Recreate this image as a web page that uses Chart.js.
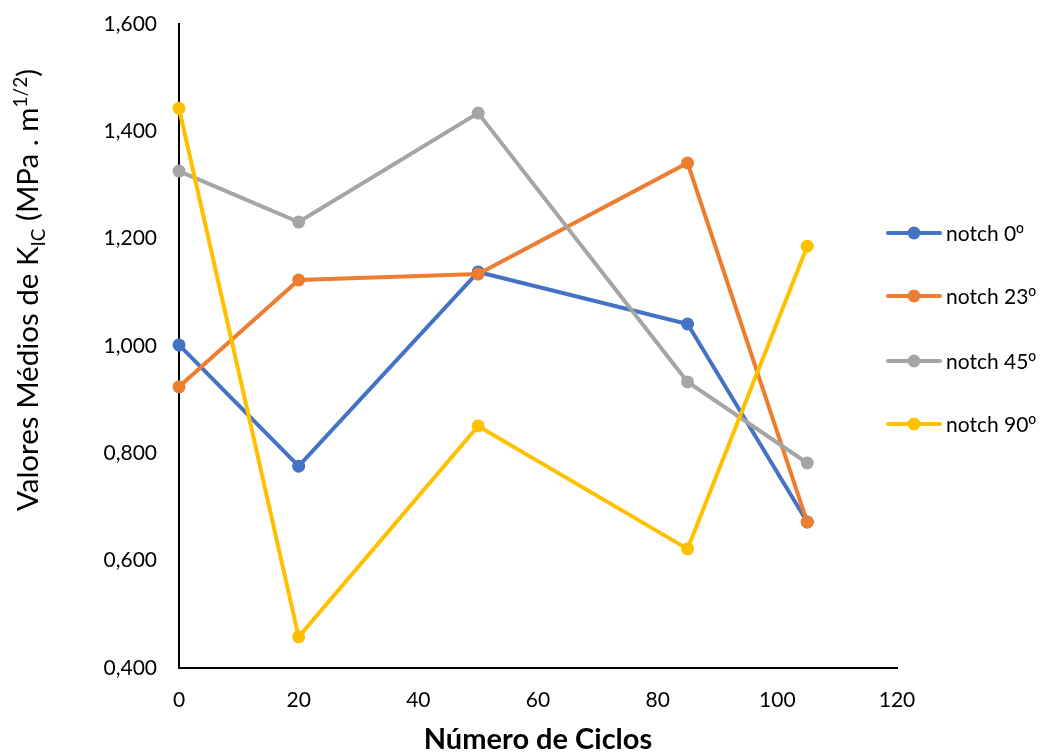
<!DOCTYPE html>
<html>
<head>
<meta charset="utf-8">
<script src="https://cdn.jsdelivr.net/npm/chart.js@4.4.0/dist/chart.umd.min.js"></script>
<style>
  html, body { margin: 0; padding: 0; background: #fff; }
  #wrap { width: 1043px; height: 754px; }
</style>
</head>
<body>
<div id="wrap"><canvas id="grafico" width="1043" height="754"></canvas></div>
<script>
// dados
var ciclos = [0, 20, 50, 85, 105];
var notch0 = [1.002, 0.776, 1.138, 1.041, 0.672];
var notch23 = [0.924, 1.123, 1.134, 1.341, 0.672];
var notch45 = [1.326, 1.231, 1.434, 0.933, 0.782];
var notch90 = [1.443, 0.458, 0.851, 0.622, 1.186];
var nomes = ['notch 0º', 'notch 23º', 'notch 45º', 'notch 90º'];
var cores = ['#4472C4', '#ED7D31', '#A5A5A5', '#FFC000'];
var series = [notch0, notch23, notch45, notch90];

var fonte = 'Lato, "Liberation Sans", sans-serif';

function pontos(vals) {
    return ciclos.map(function (c, i) { return { x: c, y: vals[i] }; });
}

// legenda à direita: linha com marcador
var legendaPlugin = {
    id: 'legendaLinha',
    afterDraw: function (chart) {
        var ctx = chart.ctx;
        var linhas = [233, 296, 361, 424];
        ctx.save();
        chart.data.datasets.forEach(function (ds, i) {
            var y = linhas[i];
            ctx.strokeStyle = ds.borderColor;
            ctx.lineWidth = 4;
            ctx.lineCap = 'round';
            ctx.beginPath();
            ctx.moveTo(888, y);
            ctx.lineTo(940, y);
            ctx.stroke();
            ctx.fillStyle = ds.borderColor;
            ctx.beginPath();
            ctx.arc(914, y, 6.5, 0, Math.PI * 2);
            ctx.fill();
            ctx.fillStyle = '#000';
            ctx.textBaseline = 'middle';
            ctx.textAlign = 'left';
            // o "º" em Liberation Sans, que tem o traço por baixo
            var corpo = ds.label.slice(0, -1);
            ctx.font = '21px ' + fonte;
            ctx.fillText(corpo, 946, y + 1);
            var w = ctx.measureText(corpo).width;
            ctx.font = '20px "Liberation Sans", sans-serif';
            ctx.fillText(ds.label.slice(-1), 946 + w, y + 1);
        });
        ctx.restore();
    }
};

// título do eixo y com subscrito e sobrescrito
var tituloYPlugin = {
    id: 'tituloY',
    afterDraw: function (chart) {
        var ctx = chart.ctx;
        var tam = 29.5, peq = 19;
        var partes = [
            { t: 'Valores Médios de K', s: tam, d: 0 },
            { t: 'IC', s: peq, d: 7 },
            { t: ' (MPa . m', s: tam, d: 0 },
            { t: '1/2', s: peq, d: -11 },
            { t: ')', s: tam, d: 0 }
        ];
        ctx.save();
        var total = 0;
        partes.forEach(function (p) {
            ctx.font = p.s + 'px ' + fonte;
            p.w = ctx.measureText(p.t).width;
            total += p.w;
        });
        ctx.translate(38, 290);
        ctx.rotate(-Math.PI / 2);
        ctx.fillStyle = '#000';
        ctx.textBaseline = 'alphabetic';
        ctx.textAlign = 'left';
        var x = -total / 2;
        partes.forEach(function (p) {
            ctx.font = p.s + 'px ' + fonte;
            ctx.fillText(p.t, x, p.d);
            x += p.w;
        });
        ctx.restore();
    }
};

// séries seguintes por cima, como no original
var datasets = series.map(function (vals, i) {
    return {
        label: nomes[i],
        data: pontos(vals),
        order: series.length - i,
        borderColor: cores[i],
        backgroundColor: cores[i],
        borderWidth: 4,
        pointRadius: 6.5,
        pointHoverRadius: 6.5,
        pointBorderWidth: 0,
        tension: 0,
        clip: false
    };
});

new Chart(document.getElementById('grafico').getContext('2d'), {
    type: 'line',
    data: { datasets: datasets },
    options: {
        responsive: false,
        animation: false,
        devicePixelRatio: 1,
        layout: { padding: { left: 0, top: 24, right: 146, bottom: 0 } },
        plugins: {
            legend: { display: false },
            tooltip: { enabled: false }
        },
        scales: {
            x: {
                type: 'linear',
                min: 0,
                max: 120,
                ticks: { stepSize: 20, color: '#000', padding: 20, font: { family: fonte, size: 21 } },
                grid: { display: false, drawTicks: false },
                border: { display: true, color: '#000', width: 2 },
                title: {
                    display: true,
                    text: 'Número de Ciclos',
                    color: '#000',
                    font: { family: fonte, size: 29, weight: 'bold' },
                    padding: { top: 0, bottom: -3 }
                },
                afterFit: function (s) {
                    s.height = 86;
                    s.paddingLeft = 0;
                    s.paddingRight = 0;
                }
            },
            y: {
                min: 0.4,
                max: 1.6,
                ticks: {
                    stepSize: 0.2,
                    color: '#000',
                    padding: 22,
                    font: { family: fonte, size: 21 },
                    callback: function (v) { return v.toFixed(3).replace('.', ','); }
                },
                grid: { display: false, drawTicks: false },
                border: { display: true, color: '#000', width: 2 },
                afterFit: function (s) {
                    s.width = 179;
                    s.paddingTop = 0;
                    s.paddingBottom = 0;
                }
            }
        }
    },
    plugins: [legendaPlugin, tituloYPlugin]
});
</script>
</body>
</html>
